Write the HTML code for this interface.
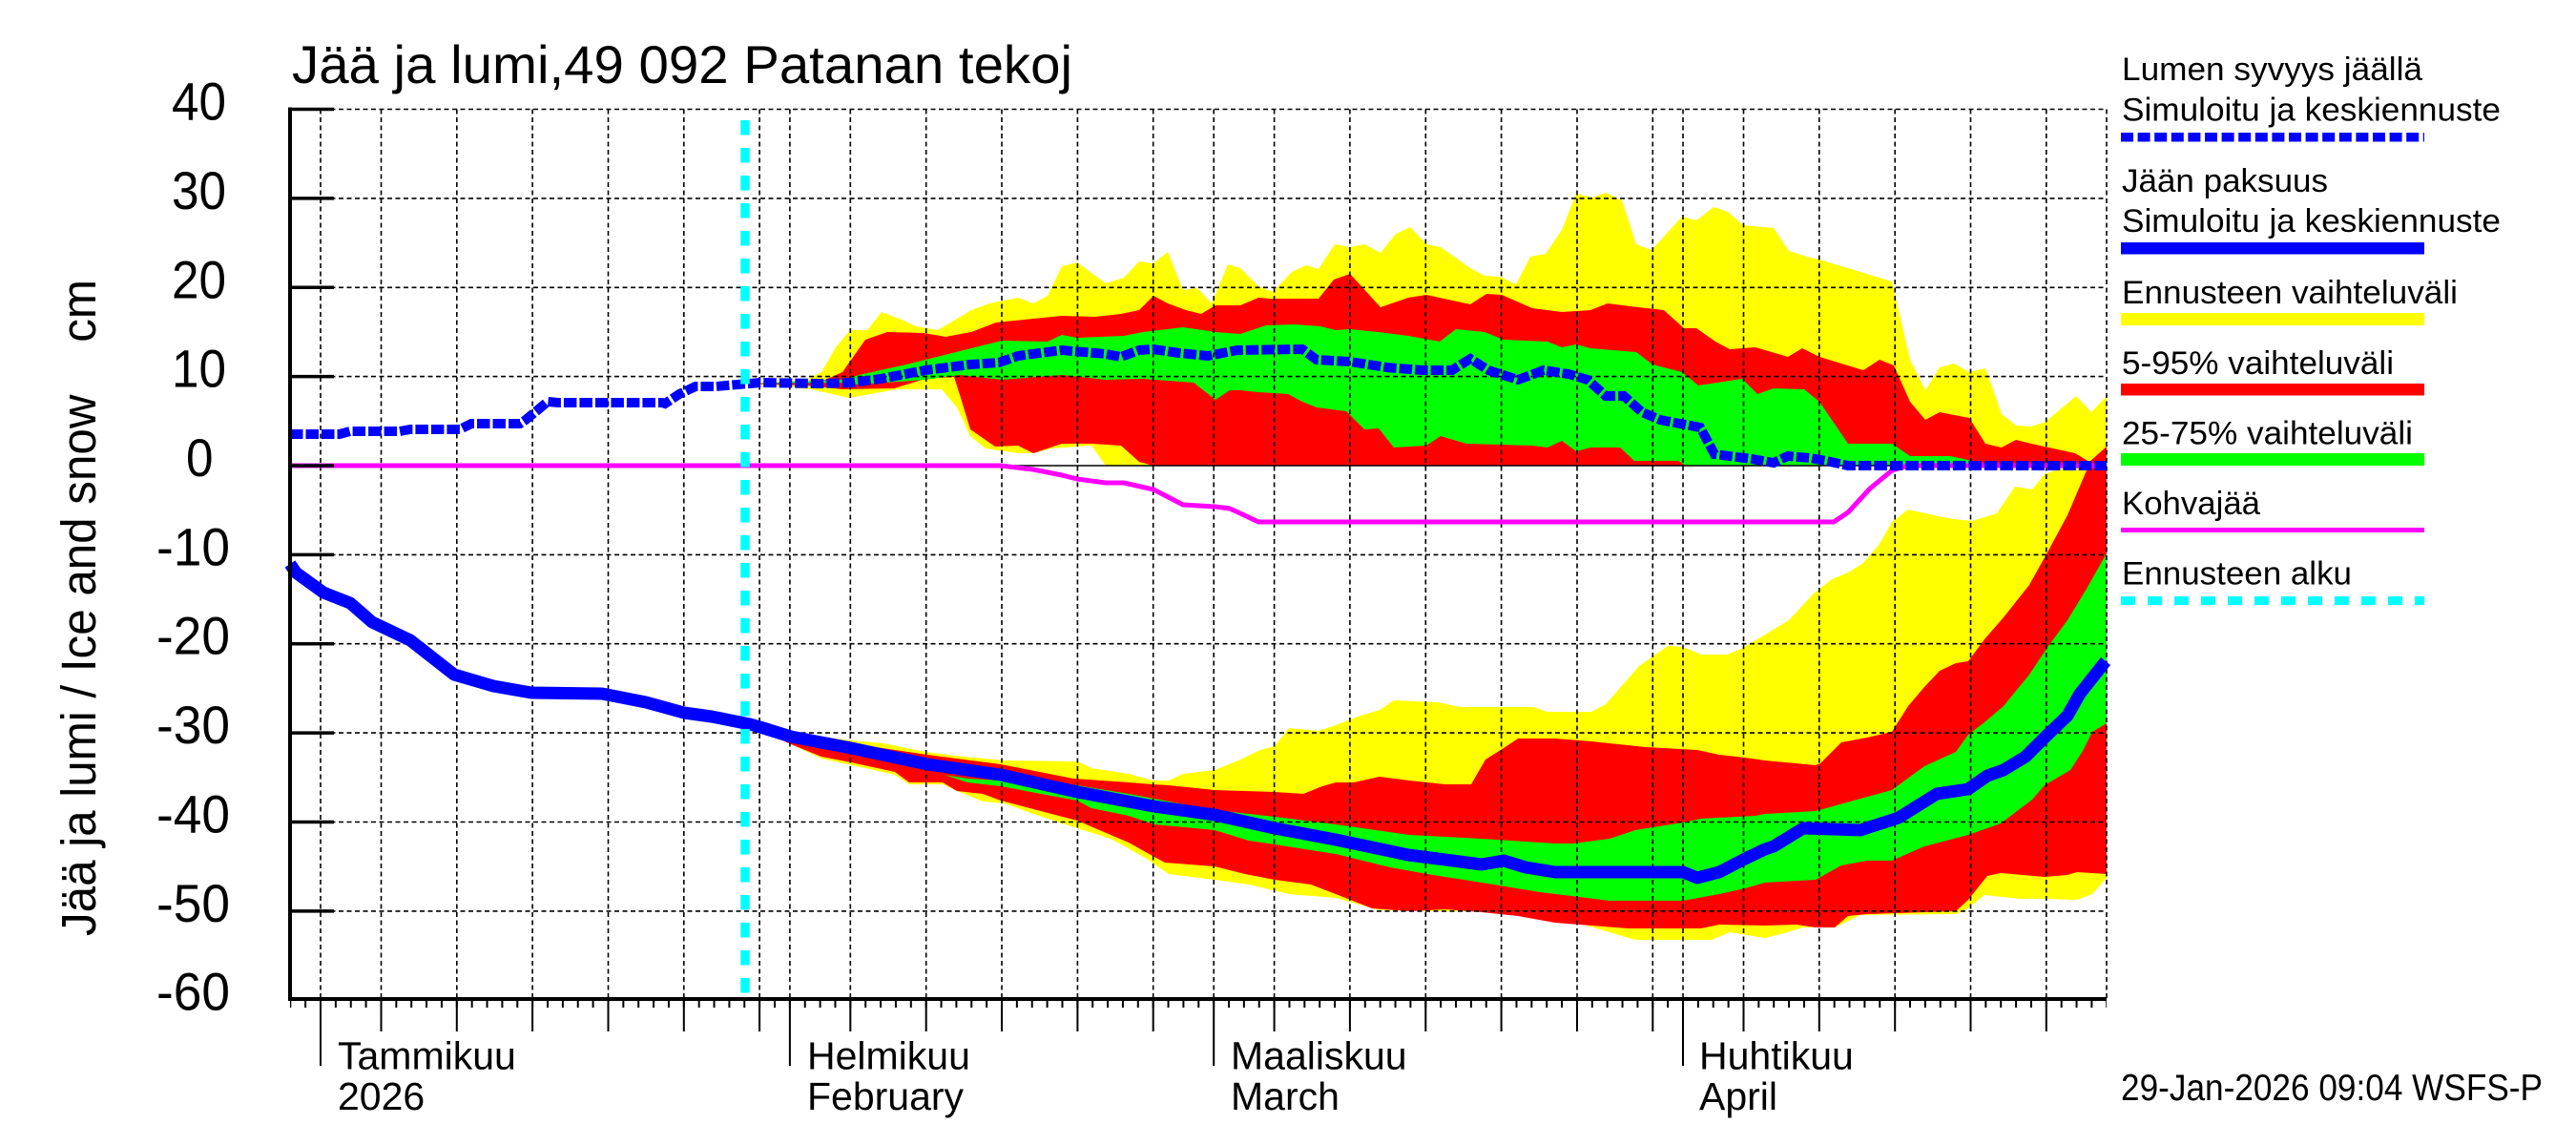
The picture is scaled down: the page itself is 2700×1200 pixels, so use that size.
<!DOCTYPE html>
<html><head><meta charset="utf-8"><style>
html,body{margin:0;padding:0;background:#fff;}
svg{display:block;}
text{font-family:"Liberation Sans",Arial,sans-serif;fill:#000;}
</style></head><body>
<svg width="2700" height="1200" viewBox="0 0 2700 1200" xmlns="http://www.w3.org/2000/svg">
<defs>
<pattern id="mt" patternUnits="userSpaceOnUse" x="335" y="1047" width="15.8667" height="12">
<rect x="0" y="0" width="2" height="12" fill="#000"/>
</pattern>
</defs>
<rect width="2700" height="1200" fill="#fff"/>

<!-- snow bands -->
<polygon fill="#ffff00" points="781,402 845,398 861,390 876,364 891,346 909,346 924,327 945,335 960,342 983,346 998,337 1018,325 1037,318 1067,312 1083,318 1098,310 1113,279 1129,275 1159,297 1178,291 1194,274 1209,276 1224,264 1240,304 1255,302 1270,318 1287,277 1300,281 1319,300 1334,306 1354,285 1369,278 1382,282 1399,256 1415,259 1430,256 1447,265 1463,245 1478,238 1495,256 1510,259 1541,281 1556,289 1572,290 1589,298 1604,269 1620,266 1637,241 1652,203 1669,207 1683,202 1700,210 1715,256 1731,262 1763,227 1778,231 1796,217 1811,222 1827,236 1859,239 1875,263 1897,270 1907,272 1983,295 2002,377 2018,409 2033,385 2048,381 2064,390 2081,386 2098,434 2113,446 2129,447 2144,442 2176,415 2192,432 2208,415 2208,488 1159,488 1144,467 1102,470 1083,475 1067,475 1033,470 1017,457 1003,427 987,408 940,408 890,417 850,408"/>
<polygon fill="#ff0000" points="781,402 845,400 865,398 883,390 907,356 930,348 968,349 991,353 1018,348 1044,338 1083,334 1113,331 1148,332 1175,329 1194,325 1209,310 1224,318 1243,325 1259,329 1274,320 1300,320 1319,312 1331,313 1382,313 1398,293 1415,287 1447,322 1476,312 1495,309 1541,319 1558,308 1574,309 1606,323 1637,327 1667,325 1685,318 1717,322 1744,325 1765,344 1778,344 1798,358 1813,366 1840,364 1874,374 1889,365 1907,374 1953,388 1970,377 1985,383 2002,421 2018,440 2033,432 2064,438 2081,465 2098,469 2113,461 2129,465 2175,475 2190,484 2208,468 2208,488 1209,488 1194,484 1175,467 1144,465 1113,465 1083,475 1067,467 1043,468 1017,450 1007,417 1000,395 970,397 937,407 883,408 845,404"/>
<polygon fill="#00ff00" points="781,402 884,398 900,393 950,382 1006,368 1050,357 1098,358 1113,351 1129,354 1178,352 1198,348 1240,343 1274,348 1300,350 1327,341 1357,340 1384,342 1400,346 1415,345 1445,348 1476,352 1509,358 1526,345 1556,348 1576,356 1622,358 1637,364 1652,361 1667,365 1715,369 1732,382 1763,390 1780,404 1826,397 1842,413 1859,407 1891,408 1907,421 1937,465 1983,465 2002,478 2044,478 2067,483 2083,488 1767,488 1759,483 1713,483 1698,469 1667,469 1652,473 1637,462 1622,469 1606,467 1537,465 1510,457 1495,467 1461,469 1445,449 1430,450 1411,431 1380,427 1365,421 1350,413 1319,411 1300,409 1289,409 1274,419 1251,401 1198,397 1159,398 1113,393 1050,398 1006,393 970,398 900,403 884,401"/>

<!-- ice bands -->
<polygon fill="#ffff00" points="786,760 829,768 892,776 926,779 970,788 1010,793 1053,797 1129,798 1144,805 1183,811 1208,818 1225,818 1240,811 1273,807 1298,797 1321,786 1336,782 1351,763 1382,766 1400,760 1423,751 1446,744 1461,734 1507,736 1530,741 1607,741 1622,746 1668,746 1683,738 1718,698 1748,677 1764,678 1783,686 1810,686 1825,680 1840,671 1875,650 1900,623 1920,607 1937,600 1953,590 1970,570 1983,547 2000,534 2027,540 2047,544 2067,546 2093,538 2112,510 2130,513 2143,497 2163,490 2208,488 2208,920 2193,937 2177,943 2143,942 2117,942 2080,938 2063,952 2050,958 1950,959 1923,972 1890,972 1870,978 1850,983 1813,977 1794,985 1714,985 1653,967 1614,962 1572,956 1530,955 1446,954 1400,941 1351,937 1309,927 1273,922 1225,916 1202,900 1164,879 1129,868 1083,853 1053,842 1030,840 1003,829 988,822 953,822 938,812 861,795 829,780"/>
<polygon fill="#ff0000" points="786,760 829,770 972,791 1049,801 1125,816 1183,820 1208,822 1225,823 1273,828 1336,830 1366,832 1386,824 1400,820 1419,820 1446,814 1477,818 1515,822 1542,822 1557,796 1576,784 1591,774 1630,774 1668,777 1725,783 1779,786 1802,791 1829,794 1850,797 1903,802 1908,800 1930,778 1957,773 1983,767 2000,740 2017,720 2033,703 2050,695 2063,693 2080,670 2100,647 2127,613 2147,577 2167,540 2187,493 2192,488 2208,488 2208,916 2177,914 2167,917 2143,919 2097,915 2083,918 2063,943 2050,955 1957,958 1937,960 1923,972 1903,972 1883,969 1850,970 1802,969 1783,973 1706,973 1668,970 1630,967 1591,960 1553,956 1515,953 1477,955 1438,952 1400,937 1374,927 1336,922 1305,916 1273,908 1221,904 1208,897 1183,883 1129,860 1087,849 1049,839 1030,832 1003,829 988,820 953,820 938,809 892,799 861,793 829,780"/>
<polygon fill="#00ff00" points="990,812 1014,816 1049,818 1129,823 1183,832 1273,849 1336,856 1400,864 1477,875 1553,879 1630,884 1649,884 1687,879 1714,870 1764,862 1783,858 1840,855 1850,853 1903,850 1950,837 1983,828 2017,803 2050,788 2063,770 2080,757 2100,740 2127,707 2147,677 2167,650 2187,617 2208,580 2208,758 2193,767 2183,787 2170,807 2143,823 2130,838 2097,863 2063,875 2017,887 1983,902 1957,902 1930,907 1903,922 1850,925 1829,931 1802,937 1764,944 1687,944 1614,935 1553,925 1496,916 1457,909 1400,895 1336,885 1309,881 1273,870 1210,864 1183,855 1144,847 1129,839 1091,832 1049,824 1014,820"/>

<!-- grid -->
<g stroke="#000" stroke-width="1.6" stroke-dasharray="5 3.5" fill="none">
<path d="M304 114.5H2208M304 207.9H2208M304 301.3H2208M304 394.6H2208M304 581.4H2208M304 674.7H2208M304 768.1H2208M304 861.5H2208M304 954.9H2208"/>
<path d="M336 114.5V1047M399.5 114.5V1047M478.8 114.5V1047M558.1 114.5V1047M637.5 114.5V1047M716.8 114.5V1047M796.1 114.5V1047M827.9 114.5V1047M891.3 114.5V1047M970.7 114.5V1047M1050 114.5V1047M1129.4 114.5V1047M1208.7 114.5V1047M1272.2 114.5V1047M1335.6 114.5V1047M1414.9 114.5V1047M1494.3 114.5V1047M1573.6 114.5V1047M1653 114.5V1047M1732.3 114.5V1047M1764 114.5V1047M1827.5 114.5V1047M1906.8 114.5V1047M1986.2 114.5V1047M2065.5 114.5V1047M2144.8 114.5V1047M2208 114.5V1047"/>
</g>
<line x1="304" y1="488" x2="2208" y2="488" stroke="#000" stroke-width="1.6"/>

<!-- kohvajaa -->
<polyline fill="none" stroke="#ff00ff" stroke-width="5" stroke-linejoin="round" points="304,488 1048,488 1083,492 1113,498 1129,502 1159,506 1178,506 1209,513 1240,529 1274,531 1289,533 1300,538 1319,547 1922,547 1937,537 1960,512 1983,493 2000,488 2208,488"/>

<!-- ice thickness -->
<polyline fill="none" stroke="#0000ff" stroke-width="13" stroke-linejoin="round" points="304,591 310,600 339,621 367,632 390,652 430,671 476,707 517,719 557,726 631,727 677,736 717,747 746,751 786,759 800,763 829,772 892,784 972,801 1049,812 1129,830 1209,845 1273,854 1336,868 1400,880 1476,896 1553,906 1576,902 1599,909 1630,914 1764,914 1779,920 1802,914 1829,900 1850,890 1859,887 1890,868 1950,870 1990,857 2030,832 2063,827 2083,813 2100,807 2123,793 2143,773 2167,750 2180,727 2207,693"/>

<!-- snow depth -->
<polyline fill="none" stroke="#0000ff" stroke-width="10" stroke-dasharray="13.5 3" points="304,455 356,455 367,452 419,452 430,450 482,450 494,444 545,444 551,440 574,421 585,422 694,422 697,423 712,413 729,405 750,405 797,401 860,402 893,401 923,397 970,388 1017,382 1047,380 1067,373 1113,367 1159,371 1175,374 1194,367 1209,366 1236,370 1266,373 1297,367 1365,366 1380,377 1415,379 1453,385 1491,388 1522,388 1541,376 1560,388 1591,398 1618,388 1644,392 1664,398 1683,415 1702,415 1721,432 1740,440 1782,448 1797,476 1836,481 1859,485 1874,478 1897,480 1914,483 1937,488 2208,488"/>

<!-- forecast start -->
<line x1="781" y1="126" x2="781" y2="1047" stroke="#00ffff" stroke-width="9.5" stroke-dasharray="15.5 13.5"/>

<!-- axes -->
<line x1="304" y1="112.5" x2="304" y2="1049" stroke="#000" stroke-width="4"/>
<line x1="302" y1="1047" x2="2208" y2="1047" stroke="#000" stroke-width="4"/>
<path stroke="#000" stroke-width="3.5" d="M304 114.5H350M304 207.9H350M304 301.3H350M304 394.6H350M304 488H350M304 581.4H350M304 674.7H350M304 768.1H350M304 861.5H350M304 954.9H350"/>
<rect x="304" y="1047" width="1904" height="9" fill="url(#mt)"/>
<path stroke="#000" stroke-width="2" d="M336 1047V1117M827.9 1047V1117M1272.2 1047V1117M1764 1047V1117M399.5 1047V1081M478.8 1047V1081M558.1 1047V1081M637.5 1047V1081M716.8 1047V1081M796.1 1047V1081M891.3 1047V1081M970.7 1047V1081M1050 1047V1081M1129.4 1047V1081M1208.7 1047V1081M1335.6 1047V1081M1414.9 1047V1081M1494.3 1047V1081M1573.6 1047V1081M1653 1047V1081M1732.3 1047V1081M1827.5 1047V1081M1906.8 1047V1081M1986.2 1047V1081M2065.5 1047V1081M2144.8 1047V1081"/>

<!-- title -->
<text x="306" y="87" font-size="56" textLength="818" lengthAdjust="spacingAndGlyphs">Jää ja lumi,49 092 Patanan tekoj</text>

<!-- y labels -->
<g font-size="56">
<text x="180" y="125.5" textLength="57" lengthAdjust="spacingAndGlyphs">40</text>
<text x="180" y="219" textLength="57" lengthAdjust="spacingAndGlyphs">30</text>
<text x="180" y="312.3" textLength="57" lengthAdjust="spacingAndGlyphs">20</text>
<text x="180" y="405.6" textLength="57" lengthAdjust="spacingAndGlyphs">10</text>
<text x="195" y="499" textLength="28.5" lengthAdjust="spacingAndGlyphs">0</text>
<text x="164" y="592.4" textLength="77" lengthAdjust="spacingAndGlyphs">-10</text>
<text x="164" y="685.7" textLength="77" lengthAdjust="spacingAndGlyphs">-20</text>
<text x="164" y="779.1" textLength="77" lengthAdjust="spacingAndGlyphs">-30</text>
<text x="164" y="872.5" textLength="77" lengthAdjust="spacingAndGlyphs">-40</text>
<text x="164" y="965.9" textLength="77" lengthAdjust="spacingAndGlyphs">-50</text>
<text x="164" y="1058.5" textLength="77" lengthAdjust="spacingAndGlyphs">-60</text>
</g>
<text transform="translate(100,637) rotate(-90)" text-anchor="middle" font-size="51" textLength="688" lengthAdjust="spacingAndGlyphs" style="white-space:pre">Jää ja lumi / Ice and snow    cm</text>

<!-- month labels -->
<g font-size="41">
<text x="354" y="1120.5">Tammikuu</text>
<text x="354" y="1163">2026</text>
<text x="846" y="1120.5">Helmikuu</text>
<text x="846" y="1163">February</text>
<text x="1290" y="1120.5">Maaliskuu</text>
<text x="1290" y="1163">March</text>
<text x="1781" y="1120.5">Huhtikuu</text>
<text x="1781" y="1163">April</text>
</g>

<!-- legend -->
<g font-size="34">
<text x="2224" y="84" textLength="315" lengthAdjust="spacingAndGlyphs">Lumen syvyys jäällä</text>
<text x="2224" y="126.4" textLength="397" lengthAdjust="spacingAndGlyphs">Simuloitu ja keskiennuste</text>
<text x="2224" y="201" textLength="216" lengthAdjust="spacingAndGlyphs">Jään paksuus</text>
<text x="2224" y="243" textLength="397" lengthAdjust="spacingAndGlyphs">Simuloitu ja keskiennuste</text>
<text x="2224" y="318" textLength="352" lengthAdjust="spacingAndGlyphs">Ennusteen vaihteluväli</text>
<text x="2224" y="392" textLength="285" lengthAdjust="spacingAndGlyphs">5-95% vaihteluväli</text>
<text x="2224" y="465.5" textLength="305" lengthAdjust="spacingAndGlyphs">25-75% vaihteluväli</text>
<text x="2224" y="539" textLength="145" lengthAdjust="spacingAndGlyphs">Kohvajää</text>
<text x="2224" y="612.6" textLength="241" lengthAdjust="spacingAndGlyphs">Ennusteen alku</text>
</g>
<line x1="2223" y1="143.8" x2="2541" y2="143.8" stroke="#0000ff" stroke-width="9.5" stroke-dasharray="13 4.6"/>
<rect x="2223" y="254" width="318" height="12.5" fill="#0000ff"/>
<rect x="2223" y="328" width="318" height="13" fill="#ffff00"/>
<rect x="2223" y="402" width="318" height="12.5" fill="#ff0000"/>
<rect x="2223" y="475" width="318" height="13" fill="#00ff00"/>
<rect x="2223" y="553" width="318" height="5" fill="#ff00ff"/>
<line x1="2223" y1="629.5" x2="2541" y2="629.5" stroke="#00ffff" stroke-width="9" stroke-dasharray="15 13"/>

<!-- timestamp -->
<text x="2223" y="1153" font-size="39" textLength="442" lengthAdjust="spacingAndGlyphs">29-Jan-2026 09:04 WSFS-P</text>
</svg>
</body></html>
